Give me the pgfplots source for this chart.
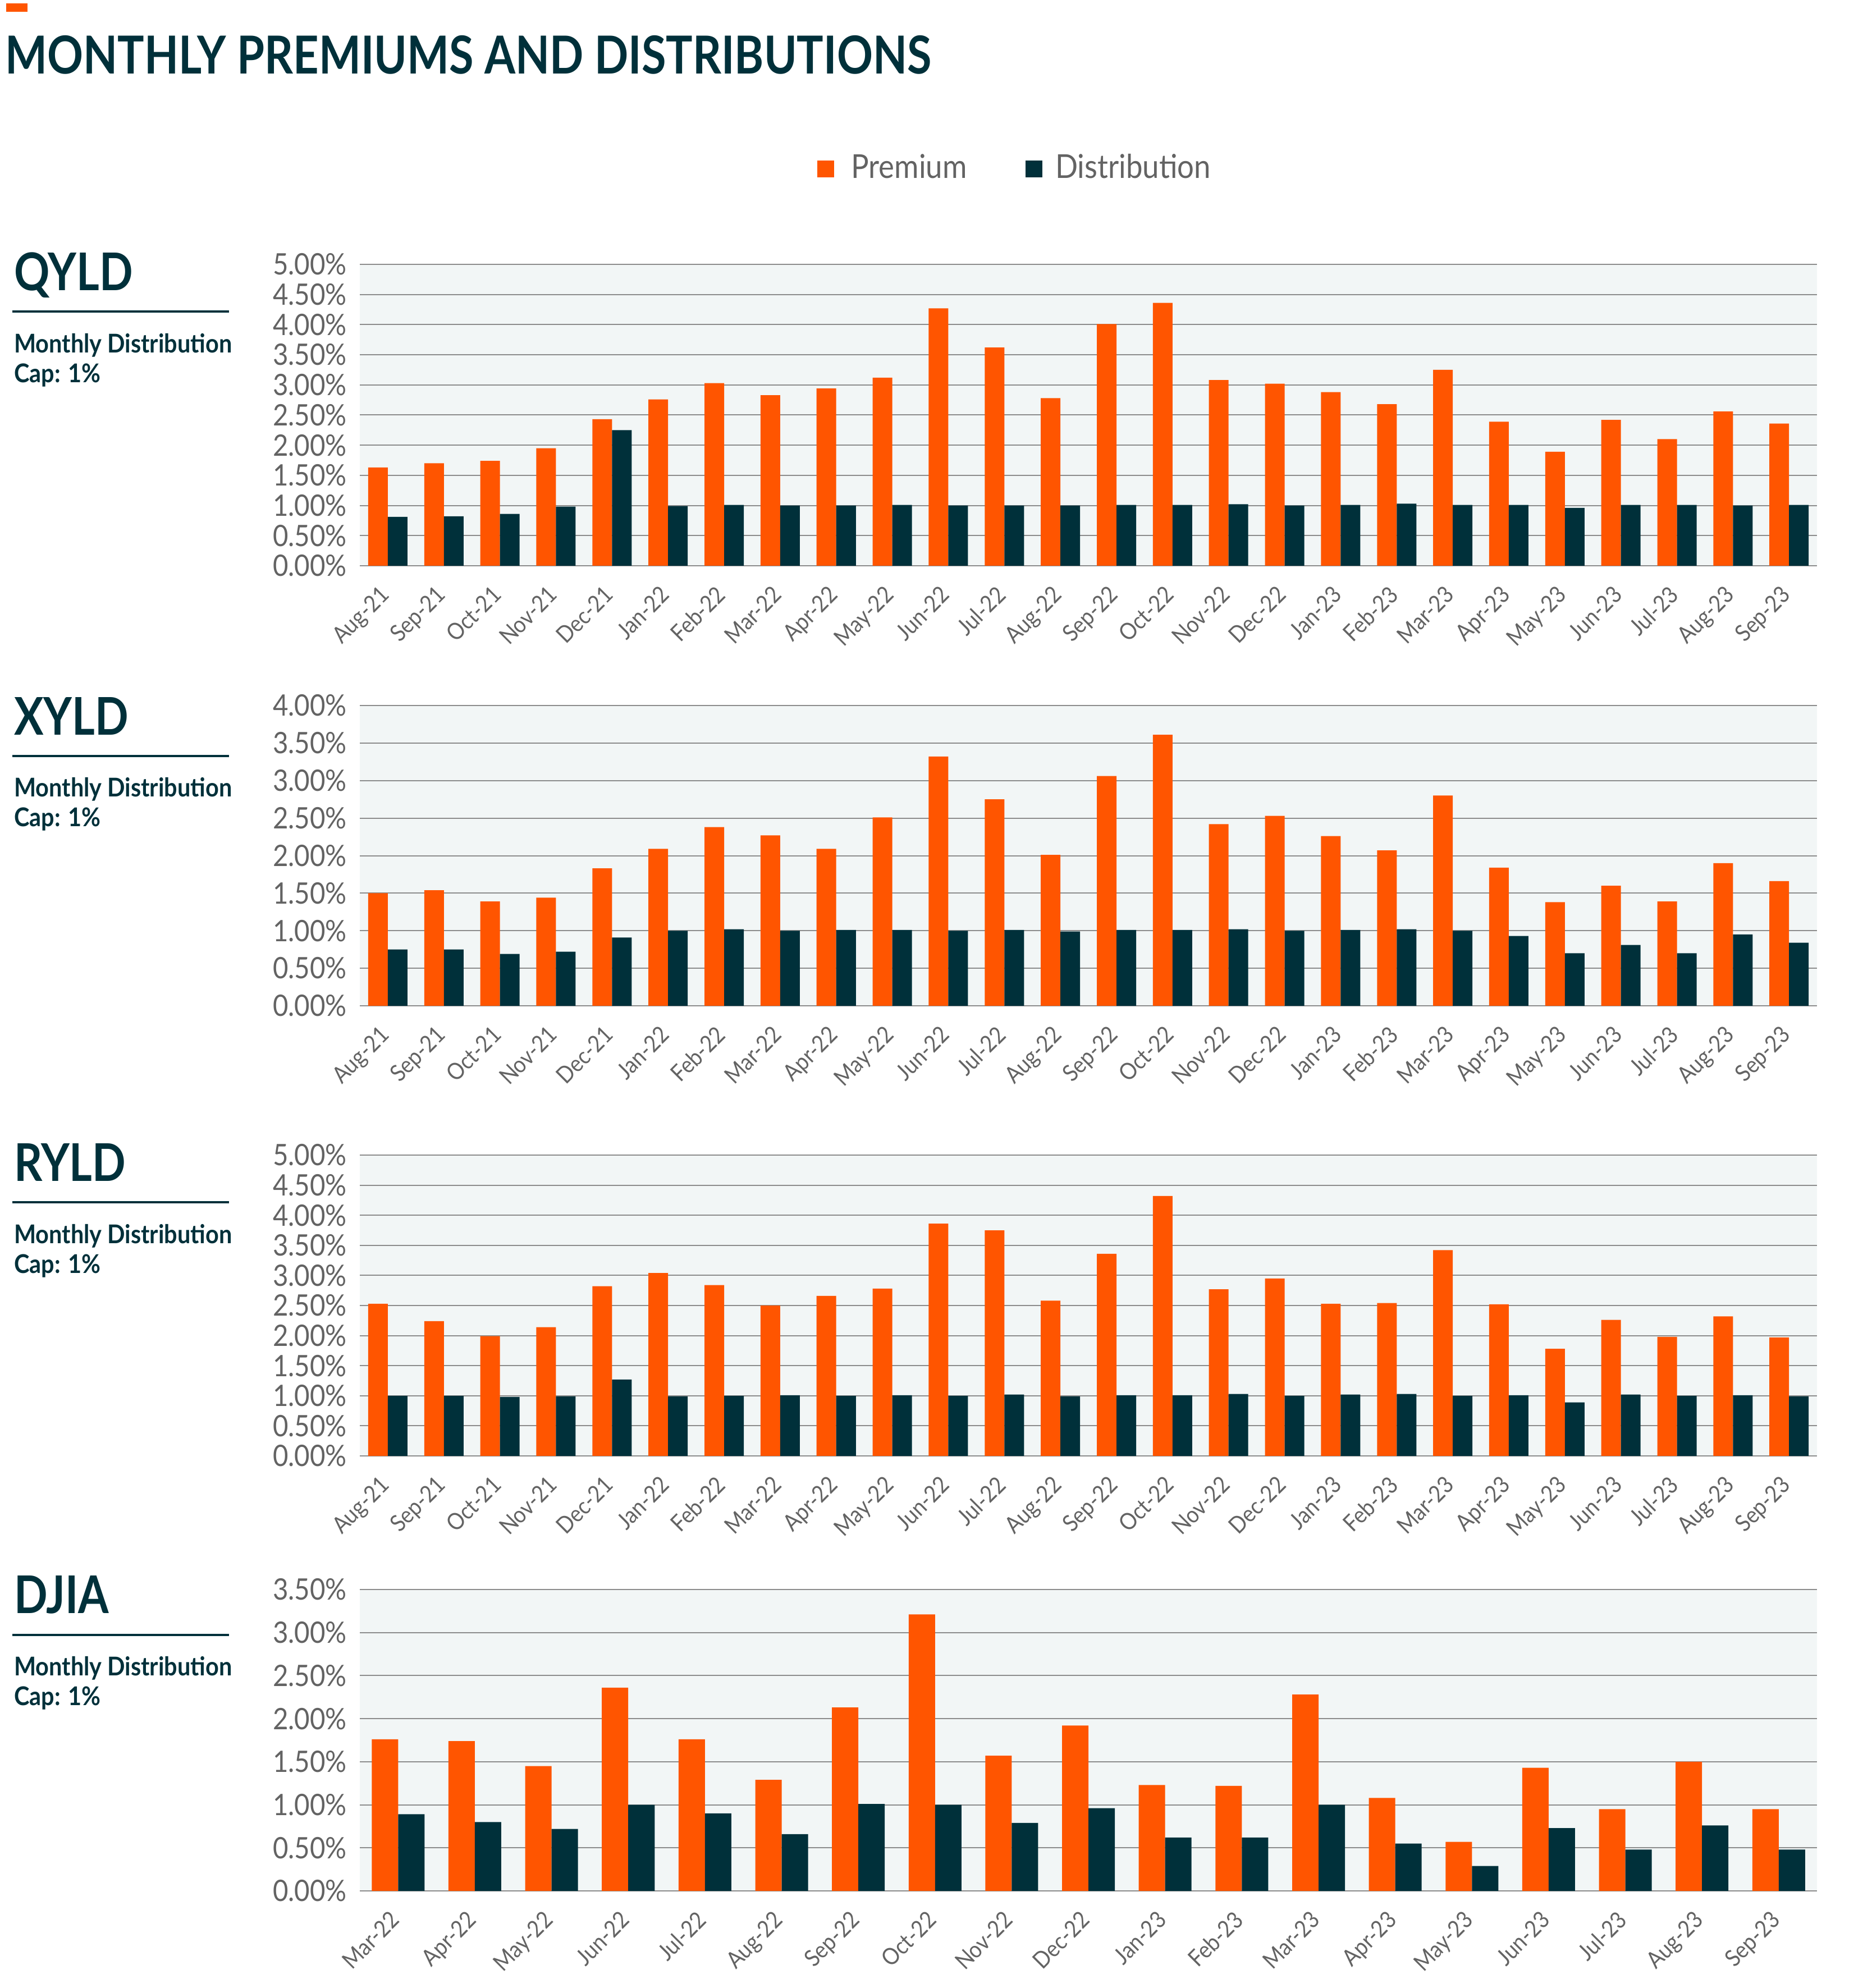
\documentclass[border=0pt]{standalone}
\usepackage{fontspec}
\setmainfont{Lato}[FakeStretch=0.9]
\usepackage{graphicx}
\usepackage{pgfplots}
\pgfplotsset{compat=1.18}
\usepackage{pgfplotstable}
\definecolor{orng}{HTML}{FF5500}
\definecolor{dark}{HTML}{00303A}
\definecolor{tgray}{HTML}{636363}
\definecolor{bg}{HTML}{F2F6F6}
\definecolor{gridc}{HTML}{8C8C8C}
\def\pp{0.15pt}

\pgfplotstableread{
x p d
0 1.63 0.81
1 1.70 0.82
2 1.74 0.86
3 1.95 0.98
4 2.43 2.25
5 2.76 0.99
6 3.03 1.01
7 2.83 1.00
8 2.94 1.00
9 3.12 1.01
10 4.27 1.00
11 3.62 1.00
12 2.78 1.00
13 4.01 1.01
14 4.36 1.01
15 3.08 1.02
16 3.02 1.00
17 2.88 1.01
18 2.68 1.03
19 3.25 1.01
20 2.39 1.01
21 1.89 0.96
22 2.42 1.01
23 2.10 1.01
24 2.56 1.00
25 2.36 1.01
}\qyld

\pgfplotstableread{
x p d
0 1.50 0.75
1 1.54 0.75
2 1.39 0.69
3 1.44 0.72
4 1.83 0.91
5 2.09 1.00
6 2.38 1.02
7 2.27 1.00
8 2.09 1.01
9 2.51 1.01
10 3.32 1.00
11 2.75 1.01
12 2.01 0.99
13 3.06 1.01
14 3.61 1.01
15 2.42 1.02
16 2.53 1.00
17 2.26 1.01
18 2.07 1.02
19 2.80 1.00
20 1.84 0.93
21 1.38 0.70
22 1.60 0.81
23 1.39 0.70
24 1.90 0.95
25 1.66 0.84
}\xyld

\pgfplotstableread{
x p d
0 2.53 1.00
1 2.24 1.00
2 1.99 0.98
3 2.14 0.99
4 2.82 1.27
5 3.04 0.99
6 2.84 1.00
7 2.50 1.01
8 2.66 1.00
9 2.78 1.01
10 3.86 1.00
11 3.75 1.02
12 2.58 0.99
13 3.36 1.01
14 4.32 1.01
15 2.77 1.03
16 2.95 1.00
17 2.53 1.02
18 2.54 1.03
19 3.42 1.00
20 2.52 1.01
21 1.78 0.89
22 2.26 1.02
23 1.98 1.00
24 2.32 1.01
25 1.97 0.99
}\ryld

\pgfplotstableread{
x p d
0 1.76 0.89
1 1.74 0.80
2 1.45 0.72
3 2.36 1.00
4 1.76 0.90
5 1.29 0.66
6 2.13 1.01
7 3.21 1.00
8 1.57 0.79
9 1.92 0.96
10 1.23 0.62
11 1.22 0.62
12 2.28 1.00
13 1.08 0.55
14 0.57 0.29
15 1.43 0.73
16 0.95 0.48
17 1.50 0.76
18 0.95 0.48
}\djia

\pgfplotsset{
  panel/.style={
    scale only axis, width=389.4pt, anchor=south west,
    ybar=0pt, ymin=0,
    axis line style={draw=none},
    major tick length=0pt, tick style={draw=none},
    ymajorgrids, grid style={gridc, line width=0.3pt},
    axis background/.style={fill=bg},
    /pgf/number format/assume math mode=true,
    yticklabel={\pgfmathprintnumber[fixed,fixed zerofill,precision=2]{\tick}\%},
    yticklabel style={font=\fontsize{7.9}{9}\selectfont, text=tgray, inner sep=0pt, xshift=-3.3pt},
    xticklabel style={font=\fontsize{6.2}{7}\selectfont, text=tgray, rotate=45, anchor=north east, inner sep=0pt, xshift=-5.1pt, yshift=-1.6pt},
  },
  monthsA/.style={
    bar width=5.25pt, xmin=-0.5, xmax=25.5, xtick={0,...,25},
    xticklabels={Aug-21,Sep-21,Oct-21,Nov-21,Dec-21,Jan-22,Feb-22,Mar-22,Apr-22,May-22,Jun-22,Jul-22,Aug-22,Sep-22,Oct-22,Nov-22,Dec-22,Jan-23,Feb-23,Mar-23,Apr-23,May-23,Jun-23,Jul-23,Aug-23,Sep-23},
  },
  monthsB/.style={
    bar width=7.05pt, xmin=-0.5, xmax=18.5, xtick={0,...,18},
    xticklabels={Mar-22,Apr-22,May-22,Jun-22,Jul-22,Aug-22,Sep-22,Oct-22,Nov-22,Dec-22,Jan-23,Feb-23,Mar-23,Apr-23,May-23,Jun-23,Jul-23,Aug-23,Sep-23},
  },
}

\newcommand{\plabel}[5]{%
  \node[anchor=base west, inner sep=0pt, text=dark, font=\bfseries\fontsize{13.9}{16}\selectfont] at (24*\pp,-#2*\pp) {\scalebox{0.94}[1]{#1}};
  \draw[dark, line width=0.68pt] (22*\pp,-#3*\pp) -- (408*\pp,-#3*\pp);
  \node[anchor=base west, inner sep=0pt, text=dark, font=\bfseries\fontsize{6.9}{8}\selectfont] at (24*\pp,-#4*\pp) {Monthly Distribution};
  \node[anchor=base west, inner sep=0pt, text=dark, font=\bfseries\fontsize{6.9}{8}\selectfont] at (24*\pp,-#5*\pp) {Cap: 1\%};
}

\begin{document}
\begin{tikzpicture}
\path[use as bounding box] (0,0) rectangle (3334*\pp,-3542*\pp);

\fill[orng] (11*\pp,-6*\pp) rectangle (49*\pp,-21*\pp);
\node[anchor=base west, inner sep=0pt, text=dark, font=\bfseries\fontsize{14}{16}\selectfont] at (8*\pp,-132*\pp) {\scalebox{0.944}[1]{MONTHLY PREMIUMS AND DISTRIBUTIONS}};

\plabel{QYLD}{518}{555}{629}{682}
\plabel{XYLD}{1310}{1347}{1420}{1473}
\plabel{RYLD}{2104}{2142}{2215}{2268}
\plabel{DJIA}{2874}{2913}{2985}{3038}

% QYLD
\begin{axis}[panel, monthsA, at={(641*\pp,-1008*\pp)}, height=80.55pt,
  ymax=5, ytick={0,0.5,...,5},
  legend columns=2,
  legend style={at={(0.3136,1.3166)}, anchor=west, draw=none, fill=none,
    inner sep=0pt, font=\fontsize{8.8}{10}\selectfont, text=tgray,
    nodes={inner sep=0pt},
    /tikz/every even column/.append style={column sep=15.6pt}},
]
\addplot[fill=orng, draw=none, legend image code/.code={\fill[orng] (0pt,-2.25pt) rectangle (4.5pt,2.25pt); \path (9pt,0pt);}] table[x=x,y=p]{\qyld};
\addlegendentry{Premium}
\addplot[fill=dark, draw=none, legend image code/.code={\fill[dark] (0pt,-2.25pt) rectangle (4.5pt,2.25pt); \path (8pt,0pt);}] table[x=x,y=d]{\qyld};
\addlegendentry{Distribution}
\end{axis}

% XYLD
\begin{axis}[panel, monthsA, at={(641*\pp,-1792*\pp)}, height=80.25pt,
  ymax=4, ytick={0,0.5,...,4}]
\addplot[fill=orng, draw=none] table[x=x,y=p]{\xyld};
\addplot[fill=dark, draw=none] table[x=x,y=d]{\xyld};
\end{axis}

% RYLD
\begin{axis}[panel, monthsA, at={(641*\pp,-2594*\pp)}, height=80.4pt,
  ymax=5, ytick={0,0.5,...,5}]
\addplot[fill=orng, draw=none] table[x=x,y=p]{\ryld};
\addplot[fill=dark, draw=none] table[x=x,y=d]{\ryld};
\end{axis}

% DJIA
\begin{axis}[panel, monthsB, at={(641*\pp,-3369*\pp)}, height=80.55pt,
  ymax=3.5, ytick={0,0.5,...,3.5}]
\addplot[fill=orng, draw=none] table[x=x,y=p]{\djia};
\addplot[fill=dark, draw=none] table[x=x,y=d]{\djia};
\end{axis}
\end{tikzpicture}
\end{document}
